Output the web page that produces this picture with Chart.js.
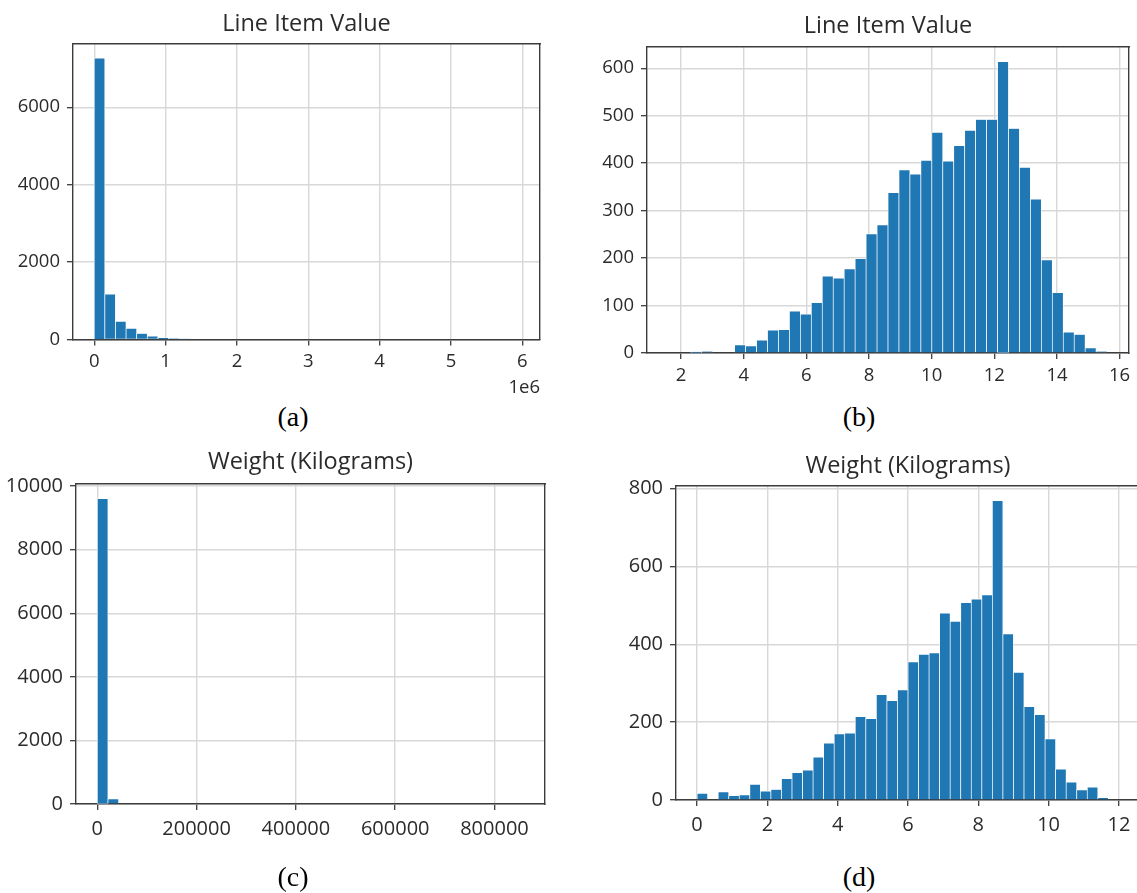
<!DOCTYPE html>
<html>
<head>
<meta charset="utf-8">
<title>Line Item Value / Weight histograms</title>
<script src="https://cdn.jsdelivr.net/npm/chart.js"></script>
<style>
  html, body { margin: 0; padding: 0; background: #fff; width: 1137px; height: 893px; overflow: hidden; position: relative; }
  canvas { position: absolute; }
  .caption { position: absolute; font-family: 'Liberation Serif', serif; font-size: 28px; color: #000; transform: translate(-50%, -50%); white-space: nowrap; }
</style>
</head>
<body>
<canvas id="histA" width="613" height="399" style="left:0px;top:0px"></canvas>
<canvas id="histB" width="602" height="393" style="left:587px;top:0px"></canvas>
<canvas id="histC" width="621" height="424" style="left:0px;top:440px"></canvas>
<canvas id="histD" width="604" height="420" style="left:606px;top:440px"></canvas>
<div class="caption" style="left:293px;top:417px">(a)</div>
<div class="caption" style="left:859px;top:417px">(b)</div>
<div class="caption" style="left:293px;top:877px">(c)</div>
<div class="caption" style="left:859px;top:877px">(d)</div>
<script>
// Histogram data: 40 equal bins between the range bounds

// (a) Line Item Value, raw
const lineItemRange = [0, 5950000];
const lineItemCounts = [7270, 1170, 470, 290, 155, 85, 43, 22, 12, 0,
                        0, 0, 0, 0, 0, 0, 0, 0, 0, 0,
                        0, 0, 0, 0, 0, 0, 0, 0, 0, 0,
                        0, 0, 0, 0, 0, 0, 0, 0, 0, 0];
const lineItemTicks = [0, 1000000, 2000000, 3000000, 4000000, 5000000, 6000000];
const lineItemCountTicks = [0, 2000, 4000, 6000];

// (b) Line Item Value, log
const logLineItemRange = [1.61, 15.6];
const logLineItemCounts = [0, 0, 2, 3, 0, 0, 17, 15, 27, 48,
                           49, 88, 82, 106, 162, 158, 177, 199, 251, 270,
                           338, 386, 377, 406, 465, 404, 437, 469, 492, 492,
                           614, 473, 391, 324, 196, 127, 44, 39, 11, 3];
const logLineItemTicks = [2, 4, 6, 8, 10, 12, 14, 16];
const logLineItemCountTicks = [0, 100, 200, 300, 400, 500, 600];

// (c) Weight (Kilograms), raw
const weightRange = [0, 858800];
const weightCounts = [9610, 160, 0, 0, 0, 0, 0, 0, 0, 0,
                      0, 0, 0, 0, 0, 0, 0, 0, 0, 0,
                      0, 0, 0, 0, 0, 0, 0, 0, 0, 0,
                      0, 0, 0, 0, 0, 0, 0, 0, 0, 0];
const weightTicks = [0, 200000, 400000, 600000, 800000];
const weightCountTicks = [0, 2000, 4000, 6000, 8000, 10000];

// (d) Weight (Kilograms), log
const logWeightRange = [0, 12];
const logWeightCounts = [17, 0, 21, 11, 13, 40, 23, 27, 55, 70,
                         77, 110, 146, 170, 172, 214, 209, 271, 255, 283,
                         355, 374, 378, 480, 459, 507, 516, 527, 769, 427,
                         328, 240, 219, 157, 79, 46, 26, 33, 6, 0];
const logWeightTicks = [0, 2, 4, 6, 8, 10, 12];
const logWeightCountTicks = [0, 200, 400, 600, 800];

const BLUE = '#1f77b4';
const TEXT = '#2b2b2b';
const GRID = '#d8d8d8';
const FRAME = '#3c3c3c';

Chart.defaults.font.family = "'Open Sans', 'Noto Sans', sans-serif";
Chart.defaults.color = TEXT;

const fixedTicks = values => axis => { axis.ticks = values.map(v => ({ value: v })); };

function histogram(id, o) {
    const [lo, hi] = o.range;
    const binWidth = (hi - lo) / o.counts.length;
    const points = o.counts.map((c, i) => ({ x: lo + (i + 0.5) * binWidth, y: c }));
    const margin = 0.05 * (hi - lo);
    const yMax = 1.05 * Math.max(...o.counts);
    const tickFont = { size: o.tickSize };

    new Chart(document.getElementById(id), {
        type: 'bar',
        data: {
            datasets: [{
                data: points,
                backgroundColor: BLUE,
                borderColor: '#ffffff',
                borderWidth: 0.7,
                barPercentage: 1,
                categoryPercentage: 1
            }]
        },
        options: {
            responsive: false,
            animation: false,
            devicePixelRatio: 1,
            layout: { padding: 0 },
            plugins: {
                legend: { display: false },
                tooltip: { enabled: false },
                title: {
                    display: true,
                    text: o.title,
                    color: TEXT,
                    font: { size: 23.5, weight: 'normal', lineHeight: 1.2 },
                    padding: o.titlePad
                }
            },
            scales: {
                x: {
                    type: 'linear',
                    min: lo - margin,
                    max: hi + margin,
                    offset: false,
                    grid: { offset: false, color: GRID, lineWidth: 1.4, tickLength: 6, tickColor: FRAME, tickWidth: 1.3 },
                    border: { color: FRAME, width: 1.4 },
                    ticks: {
                        font: tickFont, color: TEXT, padding: o.xTickPad,
                        autoSkip: false, maxRotation: 0,
                        callback: o.xLabel || (v => String(v))
                    },
                    title: o.xTitle
                        ? { display: true, text: o.xTitle, align: 'end', color: TEXT, font: tickFont, padding: 0 }
                        : { display: false },
                    afterBuildTicks: fixedTicks(o.xTicks),
                    afterFit: axis => { axis.height = o.xHeight; }
                },
                y: {
                    type: 'linear',
                    min: 0,
                    max: yMax,
                    grid: { color: GRID, lineWidth: 1.4, tickLength: 6, tickColor: FRAME, tickWidth: 1.3 },
                    border: { color: FRAME, width: 1.4 },
                    ticks: { font: tickFont, color: TEXT, padding: 7, autoSkip: false, callback: v => String(v) },
                    afterBuildTicks: fixedTicks(o.yTicks),
                    afterFit: axis => { axis.width = o.yWidth; }
                },
                // top and right frame lines; the right one also balances the title
                xTop: {
                    type: 'linear', position: 'top',
                    grid: { display: false, drawTicks: false },
                    ticks: { display: false },
                    border: { display: true, color: FRAME, width: 1.4 },
                    afterFit: axis => { axis.height = 0; }
                },
                yRight: {
                    type: 'linear', position: 'right',
                    grid: { display: false, drawTicks: false },
                    ticks: { display: false },
                    border: { display: true, color: FRAME, width: 1.4 },
                    afterFit: axis => { axis.width = o.yWidth; }
                }
            }
        }
    });
}

histogram('histA', {
    title: 'Line Item Value',
    range: lineItemRange, counts: lineItemCounts,
    xTicks: lineItemTicks, yTicks: lineItemCountTicks,
    xLabel: v => String(v / 1000000), xTitle: '1e6',
    tickSize: 18.5, xTickPad: 5.6,
    titlePad: { top: 9.9, bottom: 5.9 },
    yWidth: 73, xHeight: 59.5
});

histogram('histB', {
    title: 'Line Item Value',
    range: logLineItemRange, counts: logLineItemCounts,
    xTicks: logLineItemTicks, yTicks: logLineItemCountTicks,
    tickSize: 18.5, xTickPad: 5.6,
    titlePad: { top: 11.9, bottom: 6.9 },
    yWidth: 60, xHeight: 40
});

histogram('histC', {
    title: 'Weight (Kilograms)',
    range: weightRange, counts: weightCounts,
    xTicks: weightTicks, yTicks: weightCountTicks,
    tickSize: 20, xTickPad: 7.5,
    titlePad: { top: 7.9, bottom: 7.2 },
    yWidth: 76, xHeight: 60
});

histogram('histD', {
    title: 'Weight (Kilograms)',
    range: logWeightRange, counts: logWeightCounts,
    xTicks: logWeightTicks, yTicks: logWeightCountTicks,
    tickSize: 20, xTickPad: 7.5,
    titlePad: { top: 11.9, bottom: 5.6 },
    yWidth: 70, xHeight: 60
});
</script>
</body>
</html>
